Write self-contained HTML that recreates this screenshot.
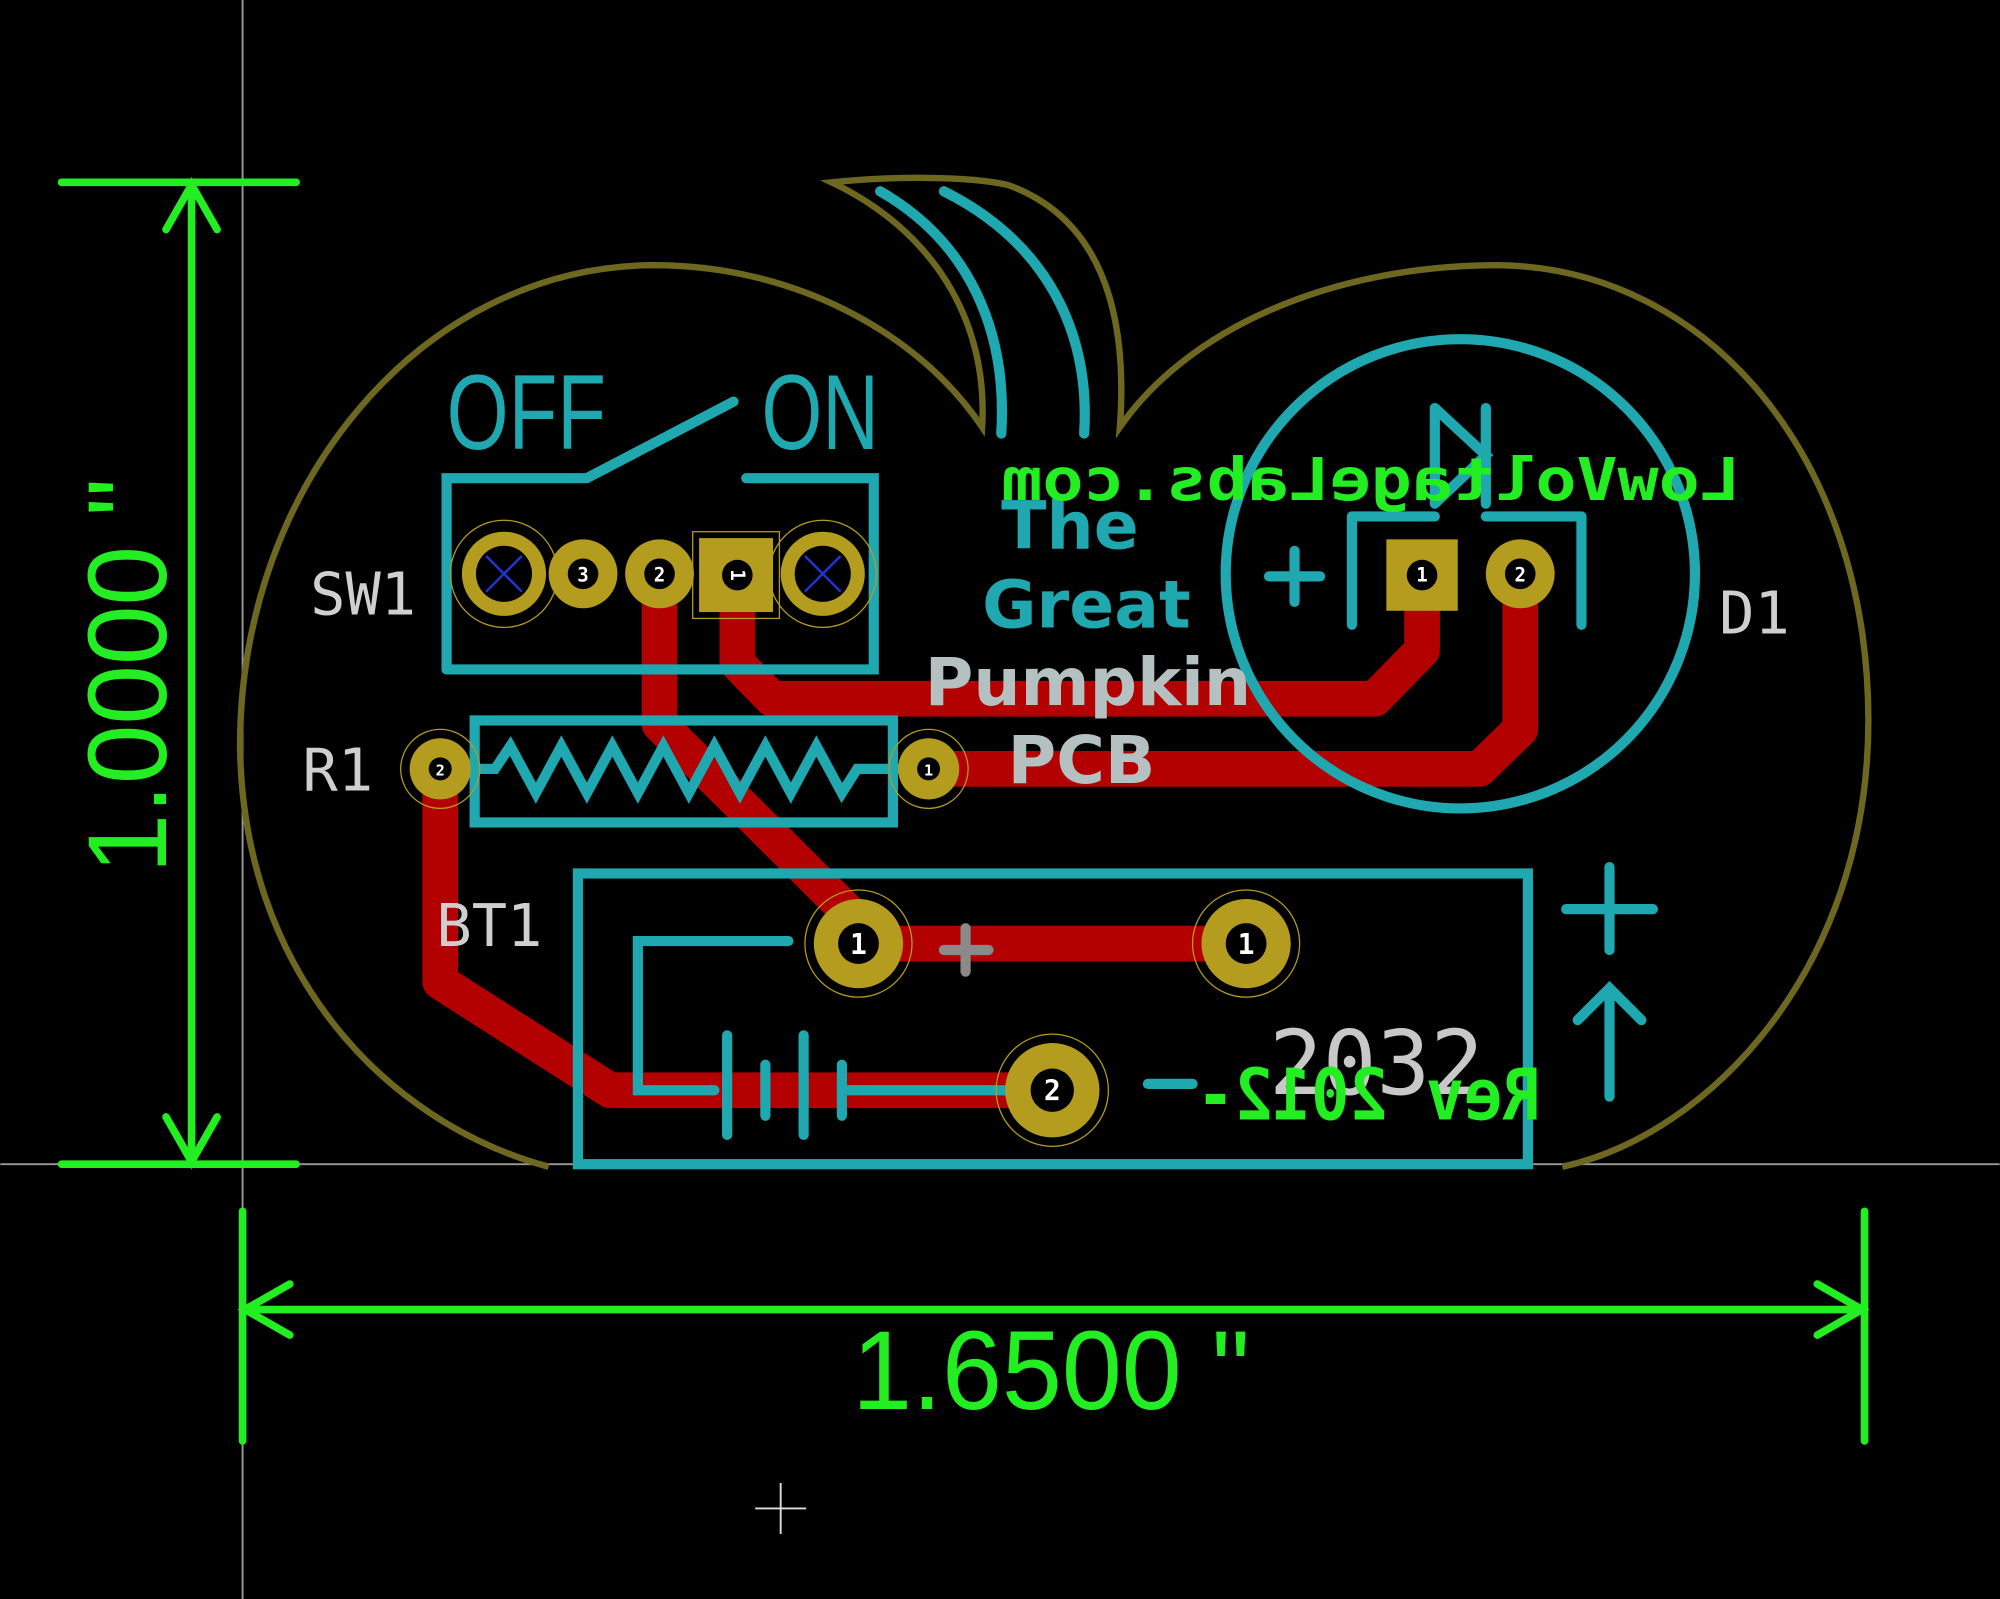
<!DOCTYPE html>
<html><head><meta charset="utf-8"><style>
html,body{margin:0;padding:0;background:#000;width:2000px;height:1599px;overflow:hidden}
svg{display:block}
text{font-family:"DejaVu Sans Mono","Liberation Mono",monospace}
</style></head><body>
<svg width="2000" height="1599" viewBox="0 0 1568 1254" xmlns="http://www.w3.org/2000/svg">
<rect width="1568" height="1254" fill="#000"/>
<line x1="190" y1="0" x2="190" y2="1254" stroke="#9a9a9a" stroke-width="1.5"/>
<line x1="0" y1="913" x2="1568" y2="913" stroke="#9a9a9a" stroke-width="1.5"/>
<line x1="592" y1="1183" x2="632" y2="1183" stroke="#ddd" stroke-width="1.5"/>
<line x1="612" y1="1163" x2="612" y2="1203" stroke="#ddd" stroke-width="1.5"/>

<path d="M430,915 C300,880 190,760 188,585 C188,380 330,210 510,208 C620,207 720,260 770,335 C775,250 730,180 652,143 C700,138 760,138 790,145 C860,170 885,240 878,335 C930,260 1040,208 1175,208 C1340,210 1465,360 1465,565 C1465,760 1340,890 1225,915" fill="none" stroke="#6e6720" stroke-width="5"/>

<g fill="none" stroke="#b30000" stroke-width="28" stroke-linejoin="round" stroke-linecap="round">
<path d="M578,450 L578,520 L605,548 L1078,548 L1115,510 L1115,450"/>
<path d="M517,450 L517,568 L690,740 L977,740"/>
<path d="M728,603 L1160,603 L1192,572 L1192,450"/>
<path d="M345,603 L345,770 L478,855 L825,855"/>
</g>

<g fill="none" stroke="#1fa8b0" stroke-width="8" stroke-linecap="round">
<path d="M690,150 C760,190 790,260 785,340"/>
<path d="M740,150 C820,190 855,260 850,340"/>
<path d="M350,525 L350,375 L460,375 L575,315"/>
<path d="M585,375 L685,375 L685,525 L350,525"/>
<circle cx="1145" cy="450" r="184"/>
<path d="M1060,405 L1060,490"/><path d="M1240,405 L1240,490"/>
<path d="M1060,405 L1125,405"/><path d="M1165,405 L1240,405"/>
<path d="M1125,320 L1125,395 M1125,320 L1165,357 L1125,395 M1165,320 L1165,395"/>
<path d="M995,452 L1035,452 M1015,432 L1015,472"/>
<rect x="372" y="565" width="328" height="80"/>
<path d="M350,603 L388,603 L400,585 L420,622 L440,585 L460,622 L480,585 L500,622 L520,585 L540,622 L560,585 L580,622 L600,585 L620,622 L640,585 L660,622 L672,603 L725,603"/>
<rect x="453" y="685" width="745" height="228"/>
<path d="M618,738 L500,738 L500,855 L560,855"/>
<path d="M570,812 L570,890 M600,835 L600,875 M630,812 L630,890 M660,835 L660,875"/>
<path d="M660,855 L790,855"/>
<path d="M900,850 L935,850"/>
<path d="M1228,713 L1296,713 M1262,680 L1262,745"/>
<path d="M1262,775 L1262,860 M1237,800 L1262,775 L1287,800"/>
<path d="M740,745 L775,745 M757,728 L757,762" stroke="#8a8a8a"/>
</g>
<g fill="#1fa8b0" font-size="84" font-family="Liberation Sans Narrow, Liberation Sans, sans-serif">
<text x="350" y="352" textLength="125" lengthAdjust="spacingAndGlyphs" style="font-family:'Liberation Sans',sans-serif">OFF</text>
<text x="597" y="352" textLength="92" lengthAdjust="spacingAndGlyphs" style="font-family:'Liberation Sans',sans-serif">ON</text>
</g>
<g font-size="52" font-weight="bold" fill="#1fa8b0" style="font-family:'DejaVu Sans',sans-serif">
<text x="785" y="430" style="font-family:'DejaVu Sans',sans-serif">The</text>
<text x="770" y="492" style="font-family:'DejaVu Sans',sans-serif">Great</text>
<text x="725" y="553" fill="#b5c0c0" style="font-family:'DejaVu Sans',sans-serif">Pumpkin</text>
<text x="790" y="614" fill="#b5c0c0" style="font-family:'DejaVu Sans',sans-serif">PCB</text>
</g>
<text x="995" y="858" font-size="70" fill="#c8c8c8">2032</text>

<text transform="translate(1365,392) scale(-1,1)" font-size="46" font-weight="bold" fill="#22ee22" textLength="580" lengthAdjust="spacingAndGlyphs">LowVoltageLabs.com</text>
<text transform="translate(1208,878) scale(-1,1)" font-size="56" font-weight="bold" fill="#22ee22" textLength="270" lengthAdjust="spacingAndGlyphs">Rev 2012-</text>

<g fill="#b49c1e">
<circle cx="395" cy="450" r="33"/><circle cx="457" cy="450" r="27"/><circle cx="517" cy="450" r="27"/>
<rect x="548" y="422" width="58" height="58"/><circle cx="645" cy="450" r="33"/>
<circle cx="345" cy="603" r="24"/><circle cx="728" cy="603" r="24"/>
<rect x="1087" y="423" width="56" height="56"/><circle cx="1192" cy="450" r="27"/>
<circle cx="673" cy="740" r="35"/><circle cx="977" cy="740" r="35"/><circle cx="825" cy="855" r="37"/>
</g>
<g fill="none" stroke="#b49c1e" stroke-width="1">
<circle cx="395" cy="450" r="42"/><circle cx="645" cy="450" r="42"/><rect x="543" y="417" width="68" height="68"/>
<circle cx="345" cy="603" r="31"/><circle cx="728" cy="603" r="31"/>
<circle cx="673" cy="740" r="42"/><circle cx="977" cy="740" r="42"/><circle cx="825" cy="855" r="44"/>
</g>
<g fill="#000">
<circle cx="395" cy="450" r="22"/><circle cx="457" cy="450" r="12"/><circle cx="517" cy="450" r="12"/>
<circle cx="578" cy="451" r="12"/><circle cx="645" cy="450" r="22"/>
<circle cx="345" cy="603" r="9"/><circle cx="728" cy="603" r="9"/>
<circle cx="1115" cy="451" r="12"/><circle cx="1192" cy="450" r="12"/>
<circle cx="673" cy="740" r="16"/><circle cx="977" cy="740" r="16"/><circle cx="825" cy="855" r="17"/>
</g>
<g stroke="#2233cc" stroke-width="2">
<path d="M381,436 L409,464 M409,436 L381,464"/><path d="M631,436 L659,464 M659,436 L631,464"/>
</g>
<g fill="#fff" font-size="15" text-anchor="middle" font-weight="bold">
<text x="457" y="456">3</text><text x="517" y="456">2</text>
<text x="578" y="456" transform="rotate(90 578 451)">1</text>
<text x="1115" y="456">1</text><text x="1192" y="456">2</text>
<text x="345" y="608" font-size="12">2</text><text x="728" y="608" font-size="12">1</text>
<text x="673" y="748" font-size="22">1</text><text x="977" y="748" font-size="22">1</text><text x="825" y="863" font-size="22">2</text>
</g>

<g fill="#cfcfcf" font-size="46">
<text x="243" y="482">SW1</text>
<text x="237" y="620">R1</text>
<text x="342" y="742">BT1</text>
<text x="1348" y="497">D1</text>
</g>

<g stroke="#22ee22" stroke-width="6" fill="none" stroke-linecap="round">
<line x1="48" y1="143" x2="232" y2="143"/><line x1="48" y1="913" x2="232" y2="913"/>
<line x1="150" y1="143" x2="150" y2="913"/>
<path d="M130,180 L150,145 L170,180 M130,876 L150,911 L170,876"/>
<line x1="190" y1="950" x2="190" y2="1130"/><line x1="1462" y1="950" x2="1462" y2="1130"/>
<line x1="190" y1="1027" x2="1462" y2="1027"/>
<path d="M227,1007 L192,1027 L227,1047 M1425,1007 L1460,1027 L1425,1047"/>
</g>
<g fill="#22ee22" font-size="88">
<text transform="translate(130,685) rotate(-90)" textLength="310" lengthAdjust="spacingAndGlyphs" style="font-family:'Liberation Sans',sans-serif">1.0000 "</text>
<text x="668" y="1105" textLength="312" lengthAdjust="spacingAndGlyphs" style="font-family:'Liberation Sans',sans-serif">1.6500 "</text>
</g>
</svg>
</body></html>
